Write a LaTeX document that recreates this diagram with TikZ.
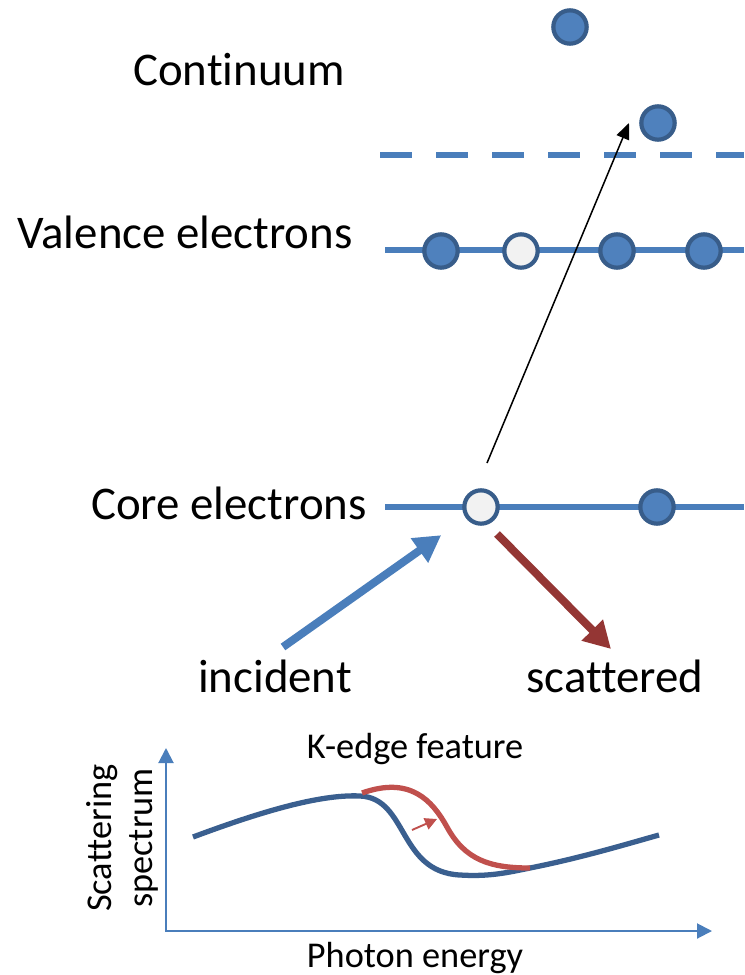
\documentclass[tikz,border=0pt]{standalone}
\usepackage{fontspec}
\setmainfont{Carlito}[Ligatures={NoCommon}]
\usepackage{tikz}
\usetikzlibrary{arrows.meta}

\definecolor{lvlblue}{HTML}{4A7EBB}
\definecolor{elfill}{HTML}{4F81BD}
\definecolor{eldraw}{HTML}{385D8A}
\definecolor{holefill}{HTML}{F2F2F2}
\definecolor{curveblue}{HTML}{3A5F8F}
\definecolor{curvered}{HTML}{C0504D}
\definecolor{scatred}{HTML}{943634}

\begin{document}
\begin{tikzpicture}[
                        x=0.03cm, y=-0.03cm,
                        every node/.style={
                                font=\fontsize{40}{48}\selectfont,
                                inner sep=0pt,
                            },
                        electron/.style={circle, draw=eldraw, fill=elfill, line width=3.6pt, minimum size=1.0cm},
                        hole/.style={electron, fill=holefill},
                        level/.style={draw=lvlblue, line width=5.1pt},
                        small/.style={font=\fontsize{31}{35}\selectfont},
                        axis/.style={draw=lvlblue, line width=1.7pt, -{Triangle[length=0.45cm,width=0.45cm]}},
                        curve/.style={line width=4.5pt},
                    ]

                    \useasboundingbox (0,0) rectangle (744,975);

                    \node[anchor=base] (lcont) at (239,85) {Continuum};
                    \node[anchor=base] (lval) at (185,248) {Valence electrons};
                    \node[anchor=base] (lcore) at (229,519) {Core electrons};
                    \node[anchor=base] (linc) at (275,692) {incident};
                    \node[anchor=base] (lscat) at (615,692) {scattered};

                    \draw[level, dash pattern=on 0.96cm off 0.72cm] (380,155) -- (744,155);
                    \draw[level] (385,250) -- (744,250);
                    \draw[level] (385,507) -- (744,507);

                    \node[electron] (free1) at (570,27) {};
                    \node[electron] (free2) at (658,123) {};

                    \foreach \x/\n in {441/val1, 617/val3, 704/val4}{
                            \node[electron] (\n) at (\x,251) {};
                        }
                    \node[hole] (val2) at (521,251) {};

                    \node[hole] (corehole) at (481,507) {};
                    \node[electron] (core2) at (657,507) {};

                    \coordinate (exc) at (487,463);
                    \coordinate (ejected) at (629,123);
                    \draw[line width=1.3pt, -{Triangle[length=0.48cm,width=0.4cm]}] (exc) -- (ejected);

                    \coordinate (incstart) at (283,647);
                    \draw[draw=lvlblue, line width=6.8pt, shorten >=0.9cm,
                        -{Triangle[length=0.8cm,width=0.85cm]}] (incstart) -- (corehole);

                    \coordinate (scatstart) at (497,534);
                    \coordinate (scatend) at (611,649);
                    \draw[draw=scatred, line width=6.8pt,
                        -{Triangle[length=0.8cm,width=0.85cm]}] (scatstart) -- (scatend);

                    % spectrum
                    \coordinate (origin) at (166,931);
                    \coordinate (ytip) at (166,748);
                    \coordinate (xtip) at (712,931);
                    \draw[axis] (origin) -- (ytip);
                    \draw[axis, shorten <=-0.03cm] (origin) -- (xtip);

                    \node[small, anchor=base] (lkedge) at (415,758) {K-edge feature};
                    \node[small, anchor=base] (lphoton) at (415,967) {Photon energy};
                    \node[small, rotate=90, align=center] (lspec) at (122,838) {Scattering\\spectrum};

                    \draw[curve, curveblue] (193,837) .. controls (260,812) and (320,794) .. (360,796)
                        .. controls (408,798) and (398,872) .. (460,875)
                        .. controls (490,877) and (510,872) .. (530,868)
                        .. controls (580,858) and (620,846) .. (659,835);
                    \draw[curve, curvered] (362,793) .. controls (410,776) and (432,800) .. (447,827)
                        .. controls (465,860) and (490,868) .. (530,868);

                    \coordinate (shiftfrom) at (412,830);
                    \coordinate (shiftto) at (437,819);
                    \draw[curvered, line width=1.6pt, -{Triangle[length=0.36cm,width=0.36cm]}] (shiftfrom) -- (shiftto);
                \end{tikzpicture}
\end{document}
